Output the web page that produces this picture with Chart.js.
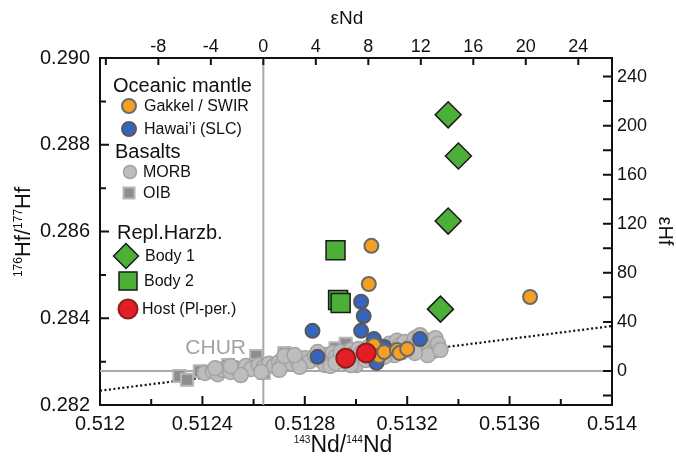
<!DOCTYPE html>
<html>
<head>
<meta charset="utf-8">
<script src="https://cdn.jsdelivr.net/npm/chart.js@4.4.0/dist/chart.umd.min.js"></script>
<style>
  html, body { margin: 0; padding: 0; background: #fff; }
  #chart { display: block; }
</style>
</head>
<body>
<canvas id="chart" width="676" height="458"></canvas>
<script>
// CHUR reference values
const CHUR_ND = 0.512638;
const CHUR_HF = 0.282785;

// Axis ticks
const xTicks = [0.512, 0.5124, 0.5128, 0.5132, 0.5136, 0.514];
const xTickLabels = ['0.512', '0.5124', '0.5128', '0.5132', '0.5136', '0.514'];
const xMinorTicks = [0.5122, 0.5126, 0.513, 0.5134, 0.5138];
const yTicks = [0.282, 0.284, 0.286, 0.288, 0.290];
const yTickLabels = ['0.282', '0.284', '0.286', '0.288', '0.290'];
const yMinorTicks = [0.283, 0.285, 0.287, 0.289];
const eNdTicks = [-8, -4, 0, 4, 8, 12, 16, 20, 24];
const eNdExtraMarks = [-12];
const eHfTicks = [0, 40, 80, 120, 160, 200, 240];
const eHfMinorTicks = [-20, 20, 60, 100, 140, 180, 220];

// Replacive harzburgite, body 1
const body1Nd = [0.51336, 0.51340, 0.51336, 0.51333];
const body1Hf = [0.28869, 0.28774, 0.28624, 0.28421];

// Replacive harzburgite, body 2
const body2Nd = [0.51292, 0.51293, 0.51294];
const body2Hf = [0.28557, 0.28442, 0.28435];

// Host plagioclase peridotite
const hostNd = [0.51296, 0.51304];
const hostHf = [0.28308, 0.28320];

// Gakkel / SWIR
const gakkelNd = [0.51306, 0.51305, 0.51368, 0.51307, 0.51309, 0.51311, 0.51316, 0.51317, 0.51320];
const gakkelHf = [0.28567, 0.28479, 0.28449, 0.28338, 0.28313, 0.28322, 0.28327, 0.28320, 0.28329];

// Hawai'i (SLC)
const hawaiiNd = [0.51302, 0.51303, 0.51283, 0.51285, 0.51302, 0.51307, 0.51311, 0.51308, 0.51325];
const hawaiiHf = [0.28438, 0.28405, 0.28371, 0.28311, 0.28371, 0.28352, 0.28334, 0.28297, 0.28352];

// MORB
const morbNd = [0.51241, 0.51244, 0.51246, 0.51248, 0.51251, 0.51253, 0.51255, 0.51257, 0.51259, 0.51262,
  0.51264, 0.51266, 0.51268, 0.51270, 0.51271, 0.51273, 0.51275, 0.51277, 0.51279, 0.51280,
  0.51282, 0.51284, 0.51286, 0.51288, 0.51289, 0.51291, 0.51292, 0.51294, 0.51296, 0.51298,
  0.51299, 0.51301, 0.51302, 0.51305, 0.51306, 0.51309, 0.51310, 0.51313, 0.51314, 0.51316,
  0.51317, 0.51319, 0.51321, 0.51323, 0.51324, 0.51326, 0.51327, 0.51329, 0.51330, 0.51331,
  0.51332, 0.51328, 0.51323, 0.51315, 0.51305, 0.51296, 0.51288, 0.51278, 0.51270, 0.51263,
  0.51255, 0.51290, 0.51300, 0.51272, 0.51276, 0.51285, 0.51292, 0.51298, 0.51304, 0.51311,
  0.51318, 0.51325, 0.51333, 0.51251, 0.51245];
const morbHf = [0.28274, 0.28278, 0.28271, 0.28281, 0.28276, 0.28285, 0.28281, 0.28290, 0.28283, 0.28292,
  0.28288, 0.28295, 0.28290, 0.28299, 0.28292, 0.28301, 0.28295, 0.28304, 0.28297, 0.28308,
  0.28301, 0.28313, 0.28304, 0.28315, 0.28308, 0.28320, 0.28311, 0.28322, 0.28315, 0.28327,
  0.28318, 0.28329, 0.28320, 0.28334, 0.28324, 0.28336, 0.28327, 0.28341, 0.28331, 0.28348,
  0.28338, 0.28345, 0.28334, 0.28354, 0.28343, 0.28329, 0.28350, 0.28338, 0.28324, 0.28354,
  0.28341, 0.28315, 0.28320, 0.28315, 0.28308, 0.28299, 0.28292, 0.28288, 0.28281, 0.28276,
  0.28269, 0.28290, 0.28292, 0.28313, 0.28315, 0.28322, 0.28297, 0.28292, 0.28304, 0.28311,
  0.28322, 0.28361, 0.28327, 0.28290, 0.28285];

// OIB
const oibNd = [0.51231, 0.51234, 0.51239, 0.51250, 0.51252, 0.51261, 0.51261, 0.51264, 0.51272, 0.51274, 0.51282, 0.51292, 0.51296];
const oibHf = [0.28267, 0.28258, 0.28278, 0.28292, 0.28285, 0.28313, 0.28292, 0.28274, 0.28320, 0.28299, 0.28308, 0.28331, 0.28341];

// Mantle array (dotted line)
const arrayNd = [0.512, 0.514];
const arrayHf = [0.28233, 0.28382];

const FONT = '"Liberation Sans", Arial, Helvetica, sans-serif';

const toPoints = (xs, ys) => xs.map((v, i) => ({ x: v, y: ys[i] }));

// epsilon ranges of the secondary axes
const eNdMin = (0.512 / CHUR_ND - 1) * 1e4;
const eNdMax = (0.514 / CHUR_ND - 1) * 1e4;
const eHfMin = (0.282 / CHUR_HF - 1) * 1e4;
const eHfMax = (0.290 / CHUR_HF - 1) * 1e4;

function drawMark(ctx, shape, x, y, r, fill, stroke, lw) {
    ctx.beginPath();
    if (shape === 'circle') {
        ctx.arc(x, y, r, 0, Math.PI * 2);
    } else if (shape === 'rect') {
        ctx.rect(x - r, y - r, 2 * r, 2 * r);
    } else {
        ctx.moveTo(x - r, y);
        ctx.lineTo(x, y - r);
        ctx.lineTo(x + r, y);
        ctx.lineTo(x, y + r);
        ctx.closePath();
    }
    ctx.fillStyle = fill;
    ctx.fill();
    ctx.lineWidth = lw;
    ctx.strokeStyle = stroke;
    ctx.stroke();
}

// text made of normal and superscript parts
function drawParts(ctx, parts, size, supSize) {
    let total = 0;
    parts.forEach(p => {
        ctx.font = (p.sup ? supSize : size) + 'px ' + FONT;
        p.w = ctx.measureText(p.t).width;
        total += p.w;
    });
    let cx = -total / 2;
    ctx.textAlign = 'left';
    ctx.textBaseline = 'alphabetic';
    parts.forEach(p => {
        ctx.font = (p.sup ? supSize : size) + 'px ' + FONT;
        ctx.fillText(p.t, cx, p.sup ? -size * 0.38 : 0);
        cx += p.w;
    });
}

const decorations = {
    id: 'decorations',
    beforeDatasetsDraw(chart) {
        const { ctx, chartArea: a, scales: { x, y } } = chart;
        const cx = x.getPixelForValue(CHUR_ND);
        const cy = y.getPixelForValue(CHUR_HF);
        ctx.save();
        ctx.strokeStyle = '#a9a9a9';
        ctx.lineWidth = 2;
        ctx.beginPath();
        ctx.moveTo(cx, a.top);
        ctx.lineTo(cx, a.bottom);
        ctx.moveTo(a.left, cy);
        ctx.lineTo(a.right, cy);
        ctx.stroke();

        ctx.fillStyle = '#a3a3a3';
        ctx.font = '21px ' + FONT;
        ctx.textAlign = 'left';
        ctx.textBaseline = 'alphabetic';
        ctx.fillText('CHUR', cx - 78, cy - 17);
        ctx.restore();
    },
    afterDraw(chart) {
        const { ctx, chartArea: a, scales } = chart;
        ctx.save();
        ctx.strokeStyle = '#111';
        ctx.lineWidth = 2;
        ctx.beginPath();
        // bottom and top ticks
        const tickX = (scale, vals, len, top) => vals.forEach(v => {
            const px = scale.getPixelForValue(v);
            const y0 = top ? a.top : a.bottom;
            ctx.moveTo(px, y0);
            ctx.lineTo(px, top ? y0 + len : y0 - len);
        });
        const tickY = (scale, vals, len, right) => vals.forEach(v => {
            const py = scale.getPixelForValue(v);
            const x0 = right ? a.right : a.left;
            ctx.moveTo(x0, py);
            ctx.lineTo(right ? x0 - len : x0 + len, py);
        });
        tickX(scales.x, xTicks, 9, false);
        tickX(scales.x, xMinorTicks, 6, false);
        tickX(scales.x2, eNdTicks, 7, true);
        tickX(scales.x2, eNdExtraMarks, 7, true);
        tickY(scales.y, yTicks, 9, false);
        tickY(scales.y, yMinorTicks, 6, false);
        tickY(scales.y2, eHfTicks, 9, true);
        tickY(scales.y2, eHfMinorTicks, 9, true);
        ctx.stroke();

        // axis titles
        ctx.fillStyle = '#111';
        ctx.save();
        ctx.translate(343, 452);
        drawParts(ctx, [{ t: '143', sup: true }, { t: 'Nd' }, { t: '/' }, { t: '144', sup: true }, { t: 'Nd' }], 23, 10);
        ctx.restore();

        ctx.save();
        ctx.translate(30, 232);
        ctx.rotate(-Math.PI / 2);
        drawParts(ctx, [{ t: '176', sup: true }, { t: 'Hf' }, { t: '/' }, { t: '177', sup: true }, { t: 'Hf' }], 22, 12);
        ctx.restore();

        ctx.save();
        ctx.translate(347, 24);
        drawParts(ctx, [{ t: 'εNd' }], 19, 12);
        ctx.restore();

        ctx.save();
        ctx.translate(659, 231);
        ctx.rotate(Math.PI / 2);
        drawParts(ctx, [{ t: 'εHf' }], 20, 12);
        ctx.restore();

        // legend
        ctx.textAlign = 'left';
        ctx.fillStyle = '#111';
        ctx.font = '20px ' + FONT;
        ctx.textBaseline = 'alphabetic';
        ctx.fillText('Oceanic mantle', 113, 92);
        ctx.fillText('Basalts', 115, 158);
        ctx.fillText('Repl.Harzb.', 117, 239);

        drawMark(ctx, 'circle', 129, 106, 7, '#f5a023', '#6a6a6a', 2);
        drawMark(ctx, 'circle', 129, 129, 7, '#3565be', '#595959', 2);
        drawMark(ctx, 'circle', 130, 172, 6.5, '#bdbdbd', '#a3a3a3', 1.5);
        drawMark(ctx, 'rect', 129, 193, 5.5, '#8e8e8e', '#b5b5b5', 2);
        drawMark(ctx, 'diamond', 126, 256, 12.5, '#4caf38', '#1a1a1a', 1.5);
        drawMark(ctx, 'rect', 128, 281, 9, '#4caf38', '#1a1a1a', 1.5);
        drawMark(ctx, 'circle', 128, 309, 9.5, '#e21e26', '#931c1c', 2);

        ctx.fillStyle = '#111';
        ctx.font = '16px ' + FONT;
        ctx.textBaseline = 'middle';
        ctx.fillText('Gakkel / SWIR', 144, 107);
        ctx.fillText('Hawai\u2019i (SLC)', 144, 130);
        ctx.fillText('MORB', 143, 173);
        ctx.fillText('OIB', 143, 194);
        ctx.fillText('Body 1', 145, 257);
        ctx.fillText('Body 2', 144, 282);
        ctx.fillText('Host (Pl-per.)', 142, 310);
        ctx.restore();
    }
};

const tickFont = size => ({ family: FONT, size: size });

new Chart(document.getElementById('chart'), {
    type: 'scatter',
    data: {
        datasets: [
            {
                label: 'Body 1',
                data: toPoints(body1Nd, body1Hf),
                pointStyle: 'rectRot',
                pointRadius: 13,
                backgroundColor: '#4caf38',
                borderColor: '#1a1a1a',
                borderWidth: 1.5,
                order: 1
            },
            {
                label: 'Body 2',
                data: toPoints(body2Nd, body2Hf),
                pointStyle: 'rect',
                pointRadius: 13.4,
                backgroundColor: '#4caf38',
                borderColor: '#1a1a1a',
                borderWidth: 1.5,
                order: 2
            },
            {
                label: 'Host (Pl-per.)',
                data: toPoints(hostNd, hostHf),
                pointRadius: 9.5,
                backgroundColor: '#e21e26',
                borderColor: '#931c1c',
                borderWidth: 2,
                order: 3
            },
            {
                label: 'Gakkel / SWIR',
                data: toPoints(gakkelNd, gakkelHf),
                pointRadius: 7,
                backgroundColor: '#f5a023',
                borderColor: '#6a6a6a',
                borderWidth: 2,
                order: 4
            },
            {
                label: 'Hawai\u2019i (SLC)',
                data: toPoints(hawaiiNd, hawaiiHf),
                pointRadius: 7,
                backgroundColor: '#3565be',
                borderColor: '#595959',
                borderWidth: 2,
                order: 5
            },
            {
                label: 'MORB',
                data: toPoints(morbNd, morbHf),
                pointRadius: 7.5,
                backgroundColor: '#bdbdbd',
                borderColor: '#a3a3a3',
                borderWidth: 1.5,
                order: 6
            },
            {
                label: 'OIB',
                data: toPoints(oibNd, oibHf),
                pointStyle: 'rect',
                pointRadius: 8.5,
                backgroundColor: '#8e8e8e',
                borderColor: '#b5b5b5',
                borderWidth: 2,
                order: 7
            },
            {
                type: 'line',
                label: 'Mantle array',
                data: toPoints(arrayNd, arrayHf),
                borderColor: '#111',
                borderWidth: 2.2,
                borderDash: [2, 2.5],
                pointRadius: 0,
                fill: false,
                order: 8
            }
        ]
    },
    options: {
        responsive: false,
        animation: false,
        devicePixelRatio: 1,
        events: [],
        layout: { padding: 0 },
        plugins: {
            legend: { display: false },
            tooltip: { enabled: false }
        },
        scales: {
            x: {
                type: 'linear',
                position: 'bottom',
                min: 0.512,
                max: 0.514,
                afterFit(s) { s.height = 53; },
                afterBuildTicks(s) { s.ticks = xTicks.map(v => ({ value: v })); },
                grid: { display: false, drawTicks: false },
                border: { display: true, color: '#111', width: 2 },
                ticks: {
                    autoSkip: false, maxRotation: 0, padding: 7, color: '#111',
                    font: tickFont(20),
                    callback: (v, i) => xTickLabels[i]
                }
            },
            x2: {
                type: 'linear',
                position: 'top',
                min: eNdMin,
                max: eNdMax,
                afterFit(s) { s.height = 58; },
                afterBuildTicks(s) { s.ticks = eNdTicks.map(v => ({ value: v })); },
                grid: { display: false, drawTicks: false },
                border: { display: true, color: '#111', width: 2 },
                ticks: {
                    autoSkip: false, maxRotation: 0, padding: 0, color: '#111',
                    font: tickFont(18),
                    callback: v => String(v)
                }
            },
            y: {
                type: 'linear',
                position: 'left',
                min: 0.282,
                max: 0.290,
                afterFit(s) { s.width = 100; },
                afterBuildTicks(s) { s.ticks = yTicks.map(v => ({ value: v })); },
                grid: { display: false, drawTicks: false },
                border: { display: true, color: '#111', width: 2 },
                ticks: {
                    autoSkip: false, padding: 10, color: '#111',
                    font: tickFont(20),
                    callback: (v, i) => yTickLabels[i]
                }
            },
            y2: {
                type: 'linear',
                position: 'right',
                min: eHfMin,
                max: eHfMax,
                afterFit(s) { s.width = 64; },
                afterBuildTicks(s) { s.ticks = eHfTicks.map(v => ({ value: v })); },
                grid: { display: false, drawTicks: false },
                border: { display: true, color: '#111', width: 2 },
                ticks: {
                    autoSkip: false, padding: 5, color: '#111',
                    font: tickFont(18),
                    callback: v => String(v)
                }
            }
        }
    },
    plugins: [decorations]
});
</script>
</body>
</html>
